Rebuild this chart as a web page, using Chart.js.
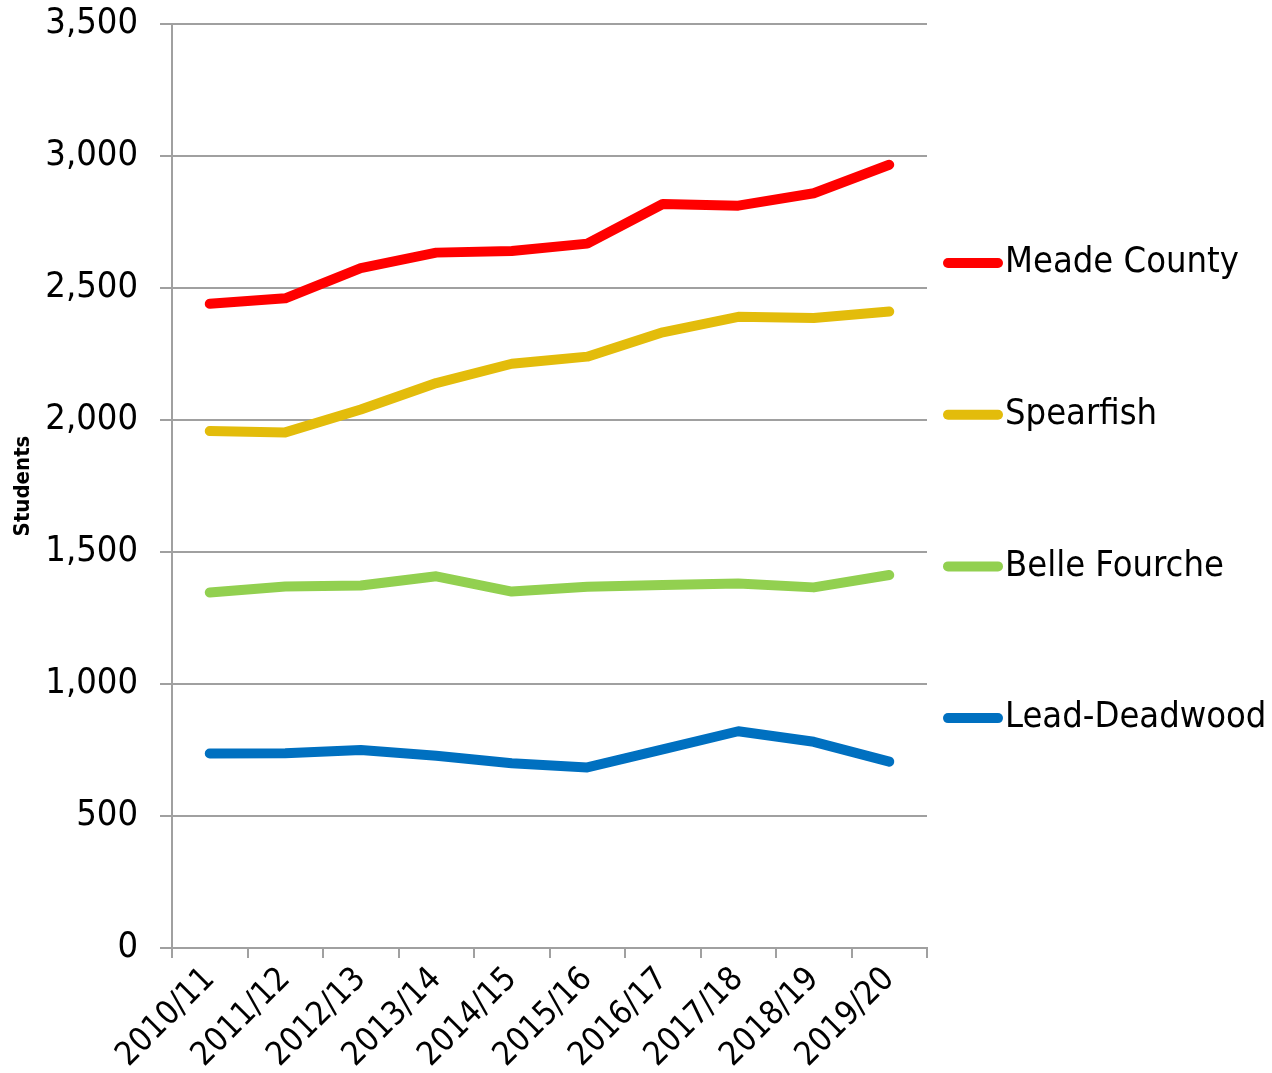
<!DOCTYPE html>
<html>
<head>
<meta charset="utf-8">
<script src="https://cdn.jsdelivr.net/npm/chart.js@4.4.0/dist/chart.umd.min.js"></script>
<style>
  html, body { margin: 0; padding: 0; background: #fff; }
  #wrap { width: 1272px; height: 1073px; }
</style>
</head>
<body>
<div id="wrap"><canvas id="enrollChart" width="1272" height="1073"></canvas></div>
<script>
var years = ["2010/11","2011/12","2012/13","2013/14","2014/15","2015/16","2016/17","2017/18","2018/19","2019/20"];
var meadeCounty = [2440, 2461, 2575, 2634, 2640, 2668, 2818, 2812, 2859, 2967];
var spearfish = [1958, 1953, 2040, 2140, 2213, 2240, 2332, 2391, 2386, 2411];
var belleFourche = [1347, 1369, 1373, 1408, 1350, 1368, 1375, 1381, 1366, 1413];
var leadDeadwood = [737, 738, 750, 728, 700, 684, 752, 821, 781, 706];
var yTicks = [0, 500, 1000, 1500, 2000, 2500, 3000, 3500];

var FONT = "'DejaVu Sans Condensed', 'DejaVu Sans', sans-serif";

// legend drawn at the right, spaced like the original
var sideLegend = {
  id: 'sideLegend',
  afterDraw: function(chart) {
    var c = chart.ctx;
    c.save();
    chart.data.datasets.forEach(function(ds, i) {
      var y = 263 + i * 151.7;
      c.strokeStyle = ds.borderColor;
      c.lineWidth = 10;
      c.lineCap = 'round';
      c.beginPath();
      c.moveTo(948, y);
      c.lineTo(998, y);
      c.stroke();
      c.fillStyle = '#000';
      c.font = '36px ' + FONT;
      c.textBaseline = 'middle';
      c.textAlign = 'left';
      c.fillText(ds.label, 1005, y);
    });
    c.restore();
  }
};

function line(label, data, color) {
  return {
    label: label,
    data: data,
    borderColor: color,
    backgroundColor: color,
    borderWidth: 10,
    borderCapStyle: 'round',
    borderJoinStyle: 'round',
    pointRadius: 0,
    tension: 0,
    fill: false
  };
}

new Chart(document.getElementById('enrollChart').getContext('2d'), {
  type: 'line',
  data: {
    labels: years,
    datasets: [
      line('Meade County', meadeCounty, '#ff0000'),
      line('Spearfish', spearfish, '#e3bc0b'),
      line('Belle Fourche', belleFourche, '#92d050'),
      line('Lead-Deadwood', leadDeadwood, '#0070c0')
    ]
  },
  options: {
    responsive: false,
    animation: false,
    devicePixelRatio: 1,
    layout: { padding: { top: 24, right: 345, left: 0, bottom: 0 } },
    plugins: { legend: { display: false }, tooltip: { enabled: false } },
    scales: {
      x: {
        offset: true,
        afterFit: function(s) { s.height = 125; },
        grid: {
          offset: true,
          drawOnChartArea: false,
          color: '#a0a0a0',
          lineWidth: 2,
          tickLength: 10
        },
        border: { color: '#a0a0a0', width: 2 },
        ticks: {
          color: '#000',
          minRotation: 45,
          maxRotation: 45,
          padding: 2,
          font: { family: FONT, size: 33 }
        }
      },
      y: {
        min: 0,
        max: 3500,
        afterFit: function(s) {
          s.width = 172;
          s.paddingTop = 0;
          s.paddingBottom = 0;
        },
        afterBuildTicks: function(s) {
          s.ticks = yTicks.map(function(v) { return { value: v }; });
        },
        grid: { color: '#a0a0a0', lineWidth: 2, tickLength: 12 },
        border: { color: '#a0a0a0', width: 2 },
        ticks: {
          color: '#000',
          padding: 22,
          font: { family: FONT, size: 36 },
          callback: function(v) { return v.toLocaleString('en-US'); }
        },
        title: {
          display: true,
          text: 'Students',
          color: '#000',
          padding: { top: 10, bottom: 0 },
          font: { family: FONT, size: 22, weight: 'bold' }
        }
      }
    }
  },
  plugins: [sideLegend]
});
</script>
</body>
</html>
